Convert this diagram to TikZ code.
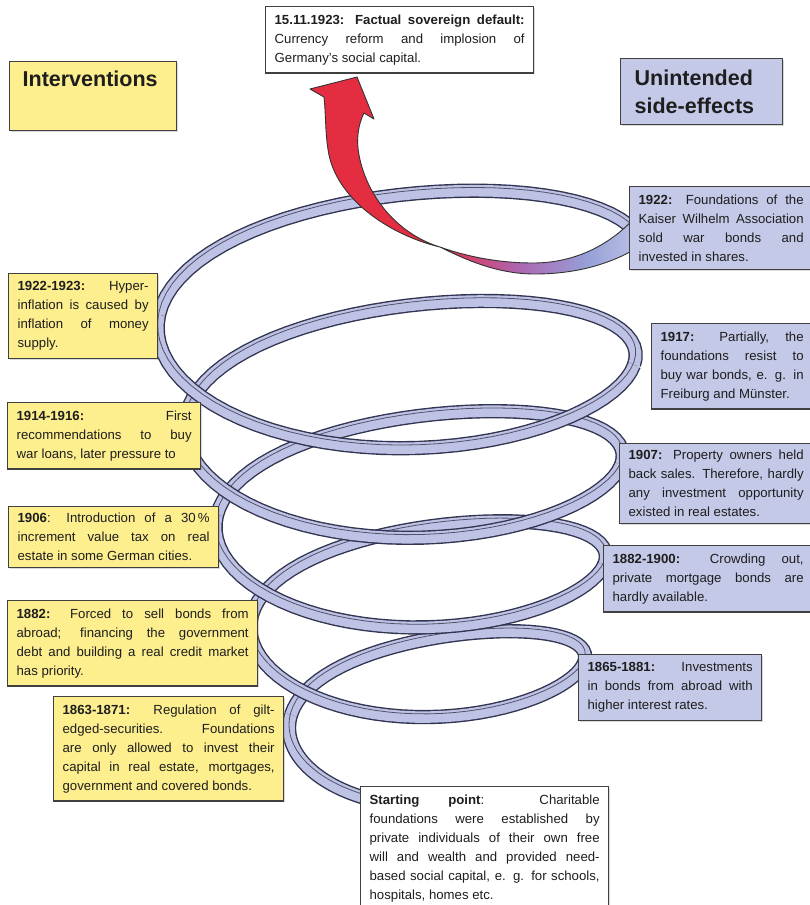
\documentclass[tikz,border=0pt]{standalone}
\usepackage{fontspec}
\setmainfont{Liberation Sans}
\usetikzlibrary{shadows}
\definecolor{ringfill}{RGB}{190,195,229}
\definecolor{ringdark}{RGB}{50,52,80}
\definecolor{boxyellow}{RGB}{253,238,142}
\definecolor{boxblue}{RGB}{196,201,232}
\definecolor{txt}{RGB}{30,30,30}
\definecolor{arrowred}{RGB}{228,45,65}
\definecolor{arrowpink}{RGB}{205,70,120}
\definecolor{arrowviolet}{RGB}{172,104,178}
\definecolor{arrowlilac}{RGB}{150,160,215}
\pgfdeclarehorizontalshading{arrowshade}{100bp}{color(0bp)=(arrowred); color(45bp)=(arrowred);
  color(50bp)=(arrowpink); color(57bp)=(arrowviolet); color(67bp)=(arrowlilac);
  color(75bp)=(ringfill); color(100bp)=(ringfill)}
\tolerance=9999
\hbadness=10000

\begin{document}
\begin{tikzpicture}[x=1pt, y=-1pt,
  declare function={
    hcx(\t)=431-8*\t;
    ha(\t)=140+33*\t-2*\t*\t;
    hb(\t)=53+10.5*\t;
    hcy(\t)=715-100*\t;
    hx(\p,\d)=hcx(\p/360)-(ha(\p/360)-\d)*cos(\p)+30*sin(\p);
    hy(\p,\d)=hcy(\p/360)-(hb(\p/360)+7.5-\d)*sin(\p)+7.5*sin(\p)*sin(\p);
  },
  note/.style={draw=black!75, line width=1.3pt, anchor=north west, align=justify,
               inner xsep=9pt, inner ysep=8pt, text=txt,
               font=\fontsize{13.2}{19}\selectfont,
               drop shadow={shadow xshift=1.5pt, shadow yshift=-1.5pt, opacity=0.3}},
  ybox/.style={note, fill=boxyellow},
  bbox/.style={note, fill=boxblue},
  wbox/.style={note, fill=white},
  head/.style={draw=black!75, line width=1.3pt, anchor=north west, align=left, text=txt,
               font=\bfseries\fontsize{21.5}{28}\selectfont,
               drop shadow={shadow xshift=1.5pt, shadow yshift=-1.5pt, opacity=0.3}},
  band/.style={draw=ringdark, line width=1.4pt, double=ringfill, double distance=11.5pt},
  bandline/.style={draw=ringdark!85, line width=0.8pt, yshift=3.2pt}
]
  \useasboundingbox (0,0) rectangle (810,905);

  % spiral: back halves first, then front halves
  \foreach \s [evaluate=\s as \e using \s+180] in {0,360,...,1440} {
    \draw[band] plot[domain=\s:\e, samples=40, variable=\p] ({hx(\p,0)},{hy(\p,0)});
    \draw[bandline] plot[domain=\s:\e, samples=40, variable=\p] ({hx(\p,0)},{hy(\p,0)});
  }
  \foreach \s/\e in {-75/0,180/360,540/720,900/1080,1260/1440} {
    \draw[band] plot[domain=\s:\e, samples=40, variable=\p] ({hx(\p,0)},{hy(\p,0)});
    \draw[bandline] plot[domain=\s:\e, samples=40, variable=\p] ({hx(\p,0)},{hy(\p,0)});
  }

  % twisted ribbon turning into the arrow
  \shadedraw[shading=arrowshade, draw=black!80, line width=0.9pt, line join=round]
    (640,212) .. controls (612,245) and (575,263) .. (533,263)
    .. controls (495,263) and (462,255) .. (440,247)
    .. controls (403,236) and (368,202) .. (359,155)
    .. controls (356,140) and (358,125) .. (364,113)
    -- (374,119) -- (357,77) -- (310,89) -- (324,97)
    .. controls (326,115) and (325,135) .. (329,155)
    .. controls (339,202) and (393,236) .. (440,247)
    .. controls (470,262) and (500,274) .. (535,274)
    .. controls (580,274) and (615,262) .. (640,246) -- cycle;

  \node[wbox, text width=250pt] (fact) at (265,6)
    {\textbf{15.11.1923: Factual sovereign default:}\linebreak Currency reform and implosion of\linebreak Germany's social capital.};
  \node[head, fill=boxyellow, text width=141pt, inner xsep=13pt, inner ysep=9pt,
        text height=16pt, text depth=35pt] (interv) at (9,61) {Interventions};
  \node[head, fill=boxblue, text width=134pt, inner xsep=14pt, inner ysep=11pt]
    (effects) at (620,58) {Unintended\\side-effects};

  \node[bbox, text width=165pt] (e1922) at (629,186)
    {\textbf{1922:} Foundations of the\linebreak Kaiser Wilhelm Association\linebreak sold war bonds and\linebreak invested in shares.};
  \node[bbox, text width=143pt] (e1917) at (651,323)
    {\textbf{1917:} Partially, the\linebreak foundations resist to\linebreak buy war bonds, e. g. in\linebreak Freiburg and Münster.};
  \node[bbox, text width=175pt, inner ysep=6.5pt] (e1907) at (619,443)
    {\textbf{1907:} Property owners held\linebreak back sales. Therefore, hardly\linebreak any investment opportunity\linebreak existed in real estates.};
  \node[bbox, text width=191pt] (e1900) at (603,545)
    {\textbf{1882-1900:} Crowding out,\linebreak private mortgage bonds are\linebreak hardly available.};
  \node[bbox, text width=165pt] (e1881) at (578,654)
    {\textbf{1865-1881:} Investments\linebreak in bonds from abroad with\linebreak higher interest rates.};

  \node[ybox, text width=131pt] (i1923) at (8,273)
    {\textbf{1922-1923:} Hyper-\linebreak inflation is caused by\linebreak inflation of money\linebreak supply.};
  \node[ybox, text width=175pt] (i1916) at (7,402)
    {\parfillskip=0pt \textbf{1914-1916:} First\linebreak recommendations to buy\linebreak war loans, later pressure to};
  \node[ybox, text width=192pt, inner ysep=6.5pt] (i1906) at (8,506)
    {\textbf{1906}: Introduction of a 30\,\%\linebreak increment value tax on real\linebreak estate in some German cities.};
  \node[ybox, text width=232pt] (i1882) at (7,600)
    {\textbf{1882:} Forced to sell bonds from\linebreak abroad; financing the government\linebreak debt and building a real credit market\linebreak has priority.};
  \node[ybox, text width=212pt] (i1871) at (53,696)
    {\textbf{1863-1871:} Regulation of gilt-\linebreak edged-securities. Foundations\linebreak are only allowed to invest their\linebreak capital in real estate, mortgages,\linebreak government and covered bonds.};

  \node[wbox, text width=230pt] (start) at (360,786)
    {\textbf{Starting point}: Charitable\linebreak foundations were established by\linebreak private individuals of their own free\linebreak will and wealth and provided need-\linebreak based social capital, e. g. for schools,\linebreak hospitals, homes etc.};
\end{tikzpicture}
\end{document}
